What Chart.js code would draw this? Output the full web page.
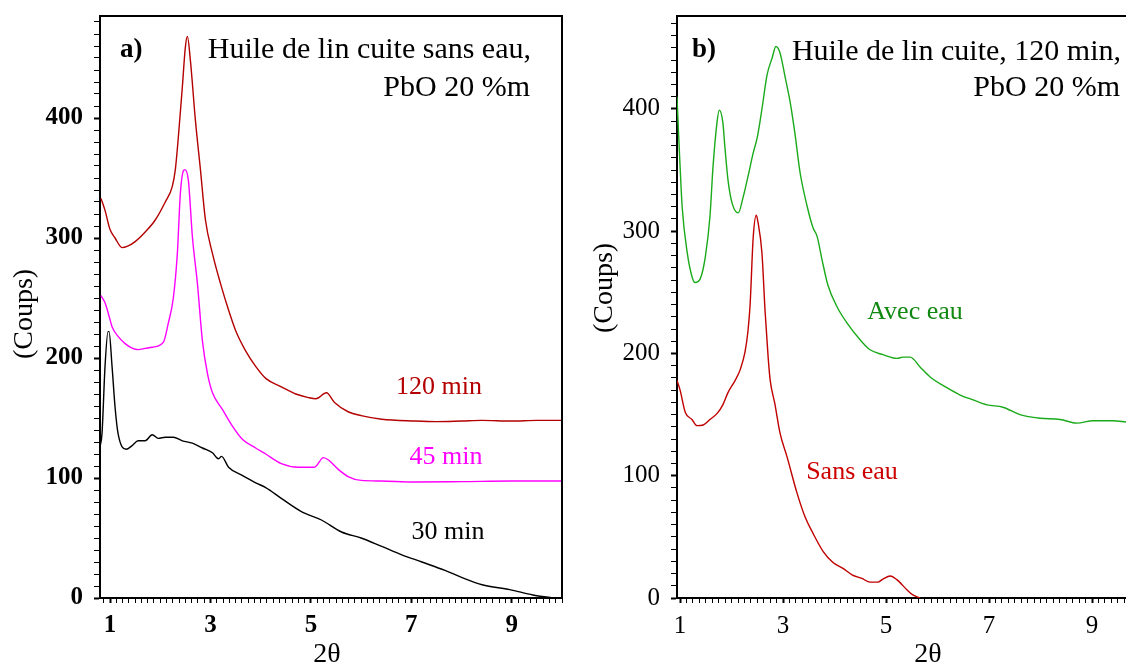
<!DOCTYPE html>
<html>
<head>
<meta charset="utf-8">
<script src="https://cdn.jsdelivr.net/npm/chart.js@4.4.1/dist/chart.umd.min.js"></script>
<style>
  body { margin: 0; background: #fff; width: 1126px; height: 668px; overflow: hidden; position: relative; }
  canvas { position: absolute; top: 0; }
  #chartA { left: 0; }
  #chartB { left: 563px; }
</style>
</head>
<body>
<canvas id="chartA" width="563" height="668"></canvas>
<canvas id="chartB" width="563" height="668"></canvas>
<script>
// ---- panel a) : Huile de lin cuite sans eau, PbO 20 %m ----
const thetaA120 = [0.82, 0.90, 1.00, 1.10, 1.24, 1.34, 1.50, 1.70, 1.90, 2.10, 2.24, 2.30, 2.36, 2.44, 2.50, 2.54, 2.60, 2.70, 2.80, 2.90, 3.04, 3.20, 3.36, 3.50, 3.70, 3.90, 4.10, 4.41, 4.70, 4.95, 5.10, 5.31, 5.47, 5.75, 6.00, 6.41, 7.07, 7.50, 8.00, 8.40, 9.00, 9.50, 10.0];
const countsA120 = [333, 323, 307, 300, 292, 293, 297, 305, 315, 330, 343, 357, 384, 426, 459, 468, 448, 398, 357, 315, 287, 262, 240, 223, 206, 193, 183, 176, 170, 167, 166, 171, 163, 155, 152, 149, 147.5, 147, 147.5, 148, 147.5, 148, 148];

const thetaA45 = [0.82, 0.90, 1.00, 1.04, 1.16, 1.30, 1.45, 1.56, 1.70, 1.84, 2.06, 2.16, 2.26, 2.34, 2.40, 2.46, 2.49, 2.56, 2.64, 2.74, 2.84, 2.94, 3.04, 3.24, 3.44, 3.64, 3.90, 4.10, 4.41, 4.75, 5.07, 5.25, 5.35, 5.55, 5.75, 6.00, 6.40, 7.07, 8.00, 9.00, 10.0];
const countsA45 = [252, 246, 232, 226, 218, 212, 208, 207, 208, 209, 213, 229, 250, 287, 337, 356, 357, 348, 301, 262, 214, 187, 171, 157, 143, 132, 125, 120, 112, 109, 109, 117, 115, 107, 101, 98, 97.5, 96.7, 97, 97.5, 97.5];

const thetaA30 = [0.80, 0.84, 0.90, 0.96, 0.98, 1.04, 1.10, 1.16, 1.32, 1.44, 1.56, 1.70, 1.84, 1.96, 2.10, 2.26, 2.44, 2.64, 2.84, 3.04, 3.16, 3.22, 3.36, 3.64, 3.90, 4.10, 4.41, 4.81, 5.21, 5.61, 6.00, 6.41, 6.81, 7.21, 7.67, 8.01, 8.41, 8.96, 9.42, 9.82];
const countsA30 = [126, 137, 193, 222, 222, 193, 159, 137, 124, 127, 131, 131, 136, 133, 134, 134, 131, 129, 125, 121, 116, 118, 109, 102, 96, 92, 83, 72, 65, 55, 50, 43, 36, 30, 23, 17, 11, 7, 2.5, 0];

// ---- panel b) : Huile de lin cuite, 120 min, PbO 20 %m ----
const thetaAvec = [0.94, 0.97, 1.00, 1.04, 1.14, 1.23, 1.29, 1.39, 1.49, 1.58, 1.64, 1.72, 1.76, 1.83, 1.87, 1.93, 2.01, 2.13, 2.22, 2.32, 2.42, 2.50, 2.59, 2.69, 2.79, 2.86, 2.94, 3.04, 3.14, 3.23, 3.33, 3.47, 3.58, 3.66, 3.76, 3.87, 4.05, 4.24, 4.50, 4.69, 4.94, 5.21, 5.33, 5.47, 5.66, 5.85, 6.18, 6.44, 6.69, 6.96, 7.27, 7.60, 7.99, 8.38, 8.71, 9.02, 9.41, 9.66];
const countsAvec = [410, 380, 353, 320, 282, 263, 258, 261, 279, 312, 353, 390, 399, 389, 369, 342, 323, 315, 327, 345, 364, 377, 400, 428, 442, 451, 446, 426, 405, 380, 348, 320, 303, 296, 276, 256, 238, 225, 211, 203, 199, 196, 197, 197, 189, 181, 172, 166, 162, 158, 156, 150, 147, 146, 143, 145, 145, 144];

const thetaSans = [0.94, 1.00, 1.10, 1.23, 1.33, 1.45, 1.58, 1.72, 1.83, 1.93, 2.07, 2.17, 2.26, 2.32, 2.36, 2.42, 2.48, 2.51, 2.59, 2.65, 2.71, 2.75, 2.84, 2.94, 3.08, 3.27, 3.43, 3.58, 3.78, 3.97, 4.17, 4.34, 4.53, 4.69, 4.84, 4.94, 5.08, 5.21, 5.41, 5.52, 5.66];
const countsSans = [178, 170, 152, 146, 141, 141.5, 146, 151, 158, 168, 178, 187, 201, 219, 240, 295, 313, 308, 282, 235, 197, 178, 159, 135, 115, 86, 66, 53, 38, 29, 24, 19, 16, 13, 13, 15.5, 18, 15, 6.5, 2.5, 0];

const SERIF = '"Liberation Serif", "Times New Roman", serif';

function toPoints(xs, ys) {
  return xs.map((x, i) => ({ x: x, y: ys[i] }));
}

function isOddInt(v) {
  const r = Math.round(v);
  return Math.abs(v - r) < 1e-6 && Math.abs(r % 2) === 1;
}

// no extra room for half tick labels: the plot box is fixed by the layout padding
function noPadding(s) {
  s.paddingTop = 0; s.paddingBottom = 0; s.paddingLeft = 0; s.paddingRight = 0;
}

function makeScales(xMin, xMax, yMax, yAxisWidth, bold) {
  const tickFont = { family: SERIF, size: 25, weight: bold ? 'bold' : 'normal' };
  return {
    x: {
      type: 'linear', min: xMin, max: xMax,
      afterBuildTicks: s => {
        const t = [];
        for (let k = Math.ceil(xMin * 8); k <= Math.floor(xMax * 8); k++) t.push({ value: k / 8 });
        s.ticks = t;
      },
      afterFit: s => { s.height = 70; noPadding(s); },
      ticks: {
        autoSkip: false, maxRotation: 0, minRotation: 0, color: '#000', font: tickFont, padding: 8,
        callback: v => isOddInt(v) ? String(Math.round(v)) : ''
      },
      grid: {
        drawOnChartArea: false, color: '#000', tickLength: 5,
        tickWidth: c => (c.tick && isOddInt(c.tick.value)) ? 2 : 1
      },
      border: { color: '#000', width: 2 }
    },
    y: {
      type: 'linear', min: 0, max: yMax,
      afterBuildTicks: s => {
        const t = [];
        for (let v = 0; v <= yMax; v += 10) t.push({ value: v });
        s.ticks = t;
      },
      afterFit: s => { s.width = yAxisWidth; noPadding(s); },
      ticks: {
        autoSkip: false, color: '#000', font: tickFont, padding: 11,
        callback: v => (v % 100 === 0) ? String(v) : ''
      },
      grid: {
        drawOnChartArea: false, color: '#000', tickLength: 6,
        tickWidth: c => (c.tick && c.tick.value % 100 === 0) ? 2 : 1
      },
      border: { color: '#000', width: 2 }
    }
  };
}

// frame lines and free texts
const decorPlugin = {
  id: 'decor',
  afterDatasetsDraw(chart, args, opts) {
    const { ctx, chartArea: a } = chart;
    ctx.save();
    ctx.strokeStyle = '#000';
    ctx.lineWidth = 2;
    ctx.beginPath();
    ctx.moveTo(a.left, a.top);
    ctx.lineTo(a.right, a.top);
    if (opts.rightLine) ctx.lineTo(a.right, a.bottom);
    ctx.stroke();
    (opts.texts || []).forEach(t => {
      ctx.save();
      ctx.font = (t.bold ? 'bold ' : '') + t.size + 'px ' + SERIF;
      ctx.fillStyle = t.color || '#000';
      ctx.textAlign = t.align || 'center';
      ctx.textBaseline = 'middle';
      ctx.translate(t.x, t.y);
      if (t.rotate) ctx.rotate(t.rotate);
      ctx.fillText(t.text, 0, 0);
      ctx.restore();
    });
    ctx.restore();
  }
};

function line(label, xs, ys, color) {
  return {
    label: label, data: toPoints(xs, ys), borderColor: color, borderWidth: 1.4,
    pointRadius: 0, cubicInterpolationMode: 'monotone', fill: false
  };
}

const chartA = new Chart(document.getElementById('chartA'), {
  type: 'line',
  data: {
    datasets: [
      line('120 min', thetaA120, countsA120, '#b40000'),
      line('45 min', thetaA45, countsA45, '#ff00ff'),
      line('30 min', thetaA30, countsA30, '#000000')
    ]
  },
  options: {
    responsive: false, animation: false,
    layout: { padding: { top: 16, right: 1, left: 0, bottom: 0 } },
    scales: makeScales(0.8, 10, 485, 100, true),
    plugins: {
      legend: { display: false },
      tooltip: { enabled: false },
      decor: {
        rightLine: true,
        texts: [
          { text: 'a)', x: 120, y: 50, size: 27, bold: true, align: 'left' },
          { text: 'Huile de lin cuite sans eau,', x: 531, y: 50, size: 30, align: 'right' },
          { text: 'PbO 20 %m', x: 530, y: 88, size: 30, align: 'right' },
          { text: '120 min', x: 439, y: 387, size: 26, color: '#b40000' },
          { text: '45 min', x: 446, y: 457, size: 26, color: '#ff00ff' },
          { text: '30 min', x: 448, y: 532, size: 26, color: '#000' },
          { text: '(Coups)', x: 25, y: 314, size: 28, rotate: -Math.PI / 2 },
          { text: '2θ', x: 327, y: 655, size: 28 }
        ]
      }
    }
  },
  plugins: [decorPlugin]
});

const chartB = new Chart(document.getElementById('chartB'), {
  type: 'line',
  data: {
    datasets: [
      line('Avec eau', thetaAvec, countsAvec, '#1aaa1a'),
      line('Sans eau', thetaSans, countsSans, '#c00000')
    ]
  },
  options: {
    responsive: false, animation: false,
    layout: { padding: { top: 16, right: 0, left: 0, bottom: 0 } },
    scales: makeScales(0.94, 9.66, 476, 114, false),
    plugins: {
      legend: { display: false },
      tooltip: { enabled: false },
      decor: {
        rightLine: false,
        texts: [
          { text: 'b)', x: 129, y: 50, size: 27, bold: true, align: 'left' },
          { text: 'Huile de lin cuite, 120 min,', x: 558, y: 52, size: 30, align: 'right' },
          { text: 'PbO 20 %m', x: 557, y: 88, size: 30, align: 'right' },
          { text: 'Avec eau', x: 352, y: 312, size: 26, color: '#118811' },
          { text: 'Sans eau', x: 289, y: 472, size: 26, color: '#cc0000' },
          { text: '(Coups)', x: 42, y: 288, size: 28, rotate: -Math.PI / 2 },
          { text: '2θ', x: 365, y: 655, size: 28 }
        ]
      }
    }
  },
  plugins: [decorPlugin]
});
</script>
</body>
</html>
